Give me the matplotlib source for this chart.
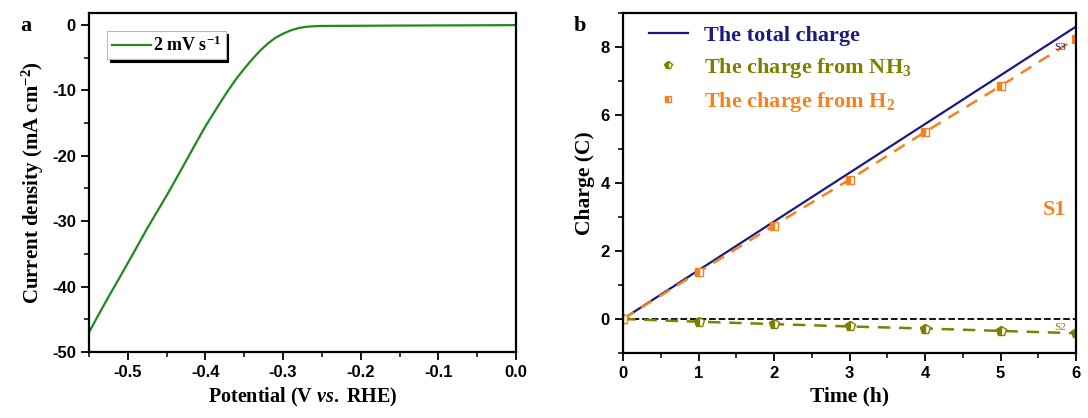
import matplotlib
matplotlib.use("Agg")
import matplotlib.pyplot as plt
from matplotlib.ticker import MultipleLocator
from matplotlib.lines import Line2D

plt.rcParams["axes.unicode_minus"] = False
plt.rcParams["mathtext.fontset"] = "custom"
plt.rcParams["mathtext.rm"] = "Liberation Serif:bold"
plt.rcParams["mathtext.it"] = "Liberation Serif:italic:bold"
plt.rcParams["mathtext.bf"] = "Liberation Serif:bold"

# panel a: LSV curve
potential = [-0.55, -0.54, -0.525, -0.51, -0.5, -0.49, -0.475, -0.46, -0.45, -0.44,
             -0.425, -0.41, -0.4, -0.39, -0.38, -0.37, -0.36, -0.35, -0.34, -0.33,
             -0.32, -0.31, -0.3, -0.29, -0.28, -0.27, -0.26, -0.25, -0.2, -0.15,
             -0.1, -0.05, 0.0]
current = [-47.0, -44.8, -41.6, -38.5, -36.4, -34.3, -31.1, -28.1, -26.1, -24.0,
           -20.8, -17.6, -15.5, -13.6, -11.7, -9.9, -8.2, -6.7, -5.3, -4.0,
           -2.9, -2.0, -1.35, -0.85, -0.5, -0.3, -0.22, -0.18, -0.15, -0.12,
           -0.1, -0.08, -0.05]

# panel b: charge vs time
time_h = [0, 1, 2, 3, 4, 5, 6]
total_t = [0, 6]
total_q = [0, 8.6]
q_h2 = [0, 1.38, 2.75, 4.1, 5.5, 6.85, 8.25]
q_nh3 = [0, -0.08, -0.15, -0.22, -0.28, -0.35, -0.42]

serif = "Liberation Serif"
sans = "Liberation Sans"
olive = "#7f8000"
orange = "#f5821f"
navy = "#1a1a80"

fig = plt.figure(figsize=(10.88, 4.18), dpi=100)
ax1 = fig.add_axes([89/1088, 1-352/418, 427/1088, 339/418])
ax2 = fig.add_axes([623/1088, 1-353/418, 453/1088, 340/418])

for ax in (ax1, ax2):
    ax.tick_params(which="both", direction="out", top=False, right=False)
    ax.tick_params(which="major", length=6, width=1.3)
    ax.tick_params(which="minor", length=3.5, width=1.1)
    for s in ax.spines.values():
        s.set_linewidth(1.6)

# ---- a ----
ax1.plot(potential, current, color="#1f8a1f", lw=1.6, label="2 mV s$^{-1}$")
ax1.set_xlim(-0.55, 0.0)
ax1.set_ylim(-50, 1.8)
ax1.xaxis.set_minor_locator(MultipleLocator(0.05))
ax1.yaxis.set_major_locator(MultipleLocator(10))
ax1.yaxis.set_minor_locator(MultipleLocator(5))
ax1.set_xticks([-0.5, -0.4, -0.3, -0.2, -0.1, 0.0])
ax1.set_xticklabels(["-0.5", "-0.4", "-0.3", "-0.2", "-0.1", "0.0"])
ax1.set_xlabel("Potential (V $\\mathit{vs.}$ RHE)", fontfamily=serif, fontweight="bold", fontsize=14.5)
ax1.set_ylabel("Current density (mA cm$^{-2}$)", fontfamily=serif, fontweight="bold", fontsize=15)
leg1 = ax1.legend(loc="upper left", frameon=True,
                  shadow={"color": "black", "alpha": 1.0}, fancybox=False,
                  prop={"family": serif, "weight": "bold", "size": 13},
                  handlelength=2.2, handletextpad=0.1, borderpad=0.25, borderaxespad=1.0)
leg1.get_frame().set_edgecolor("#bbbbbb")
leg1.get_frame().set_linewidth(0.8)
fig.text(20/1088, 1-26/418, "a", fontfamily=serif, fontweight="bold", fontsize=16, va="center")

# ---- b ----
ax2.axhline(0, color="black", ls="--", lw=1.3)
ax2.plot(total_t, total_q, color=navy, lw=1.6)
ax2.plot(time_h, q_nh3, color=olive, ls=(0, (5, 3.5)), lw=1.8)
ax2.plot(time_h, q_h2, color=orange, ls=(0, (5, 3.5)), lw=1.8)
ax2.plot(time_h, q_nh3, ls="none", color=olive, marker="p", ms=7,
         fillstyle="left", markerfacecoloralt="white", markeredgewidth=1.0)
ax2.plot(time_h, q_h2, ls="none", color=orange, marker="s", ms=6,
         fillstyle="left", markerfacecoloralt="white", markeredgewidth=1.0)
ax2.set_xlim(0, 6)
ax2.set_ylim(-1, 9)
ax2.xaxis.set_major_locator(MultipleLocator(1))
ax2.xaxis.set_minor_locator(MultipleLocator(0.5))
ax2.yaxis.set_major_locator(MultipleLocator(2))
ax2.yaxis.set_minor_locator(MultipleLocator(1))
ax2.set_xlabel("Time (h)", fontfamily=serif, fontweight="bold", fontsize=15.5)
ax2.set_ylabel("Charge (C)", fontfamily=serif, fontweight="bold", fontsize=15.5)

handles = [
    Line2D([], [], color=navy, lw=1.6),
    Line2D([], [], ls="none", color=olive, marker="p", ms=6, fillstyle="left",
           markerfacecoloralt="white"),
    Line2D([], [], ls="none", color=orange, marker="s", ms=5, fillstyle="left",
           markerfacecoloralt="white"),
]
labels = ["The total charge", "The charge from NH$_3$", "The charge from H$_2$"]
leg2 = ax2.legend(handles, labels, loc="upper left", frameon=False,
                  prop={"family": serif, "weight": "bold", "size": 16},
                  handlelength=1.75, handletextpad=0.75, labelspacing=0.45,
                  borderaxespad=0.15, bbox_to_anchor=(0.03, 1.0))
for txt, c in zip(leg2.get_texts(), [navy, olive, orange]):
    txt.set_color(c)
ax2.text(5.72, 3.2, "S1", color=orange, fontfamily=serif, fontweight="bold", fontsize=16,
         ha="center", va="center")
ax2.text(5.79, 8.0, "S3", color=navy, fontfamily=serif, fontsize=8, ha="center", va="center")
ax2.text(5.79, -0.26, "S2", color=olive, fontfamily=serif, fontsize=8, ha="center", va="center")
fig.text(574/1088, 1-26/418, "b", fontfamily=serif, fontweight="bold", fontsize=16, va="center")

for ax in (ax1, ax2):
    for lab in ax.get_xticklabels() + ax.get_yticklabels():
        lab.set_fontfamily(sans)
        lab.set_fontweight("bold")
        lab.set_fontsize(12)

fig.savefig("out.png", dpi=100)
